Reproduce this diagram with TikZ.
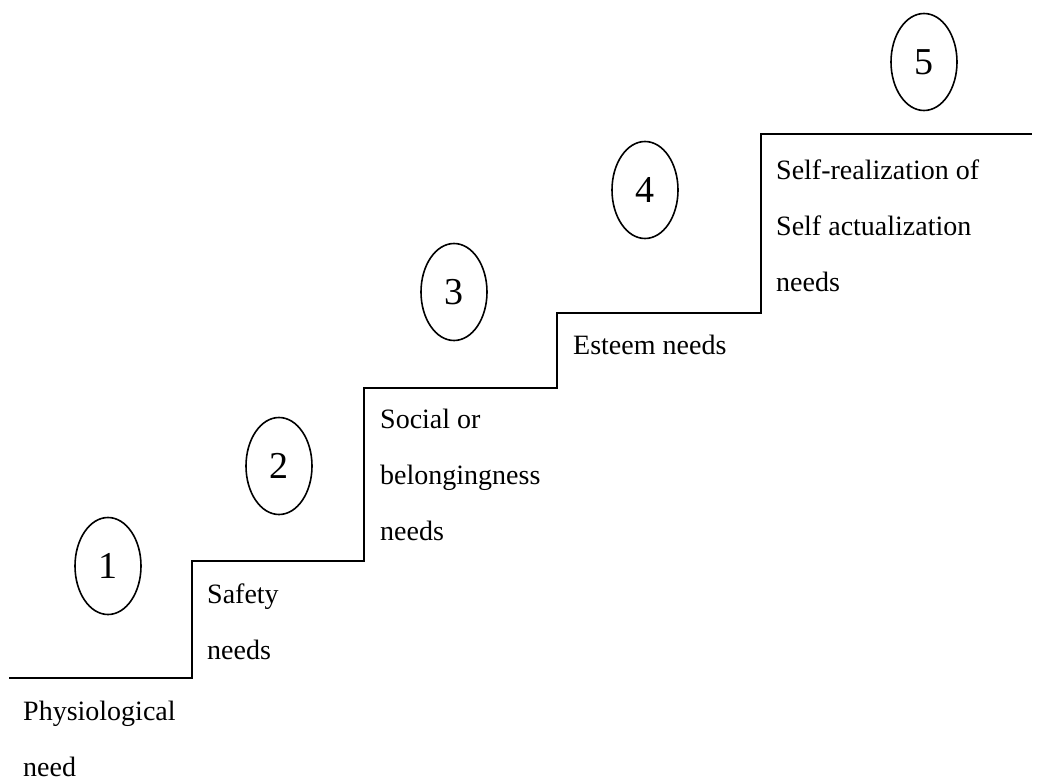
\documentclass[tikz,border=0pt]{standalone}
\usepackage{fontspec}
\setmainfont{Liberation Serif}
\usetikzlibrary{shapes.geometric}

\tikzset{
  stepnum/.style={draw, ellipse, line width=1.6pt, inner sep=0pt,
    minimum width=66pt, minimum height=97pt, font=\fontsize{38}{40}\selectfont},
  steptext/.style={anchor=base west, align=left, inner sep=0pt,
    font=\fontsize{28}{56}\selectfont}
}

\begin{document}
\begin{tikzpicture}[x=1pt, y=-1pt]
    \useasboundingbox (0,0) rectangle (1038,781);
    % the stairs
    \coordinate (s0) at (9,678);
    \coordinate (s1) at (192,678);
    \coordinate (s2) at (192,561);
    \coordinate (s3) at (364,561);
    \coordinate (s4) at (364,388);
    \coordinate (s5) at (557,388);
    \coordinate (s6) at (557,313);
    \coordinate (s7) at (761,313);
    \coordinate (s8) at (761,134);
    \coordinate (s9) at (1032,134);
    \draw[line width=1.8pt] (s0) -- (s1) -- (s2) -- (s3) -- (s4) -- (s5)
        -- (s6) -- (s7) -- (s8) -- (s9);
    % numbers
    \node[stepnum] (n1) at (108,566) {1};
    \node[stepnum] (n2) at (279,466) {2};
    \node[stepnum] (n3) at (454,292) {3};
    \node[stepnum] (n4) at (645,190) {4};
    \node[stepnum] (n5) at (924,62) {5};
    % needs (base = last line)
    \node[steptext] (physio) at (23,776) {Physiological\\need};
    \node[steptext] (safety) at (207,659) {Safety\\needs};
    \node[steptext] (social) at (380,540) {Social or\\belongingness\\needs};
    \node[steptext] (esteem) at (573,354) {Esteem needs};
    \node[steptext] (selfreal) at (776,291) {Self-realization of\\Self actualization\\needs};
\end{tikzpicture}
\end{document}
